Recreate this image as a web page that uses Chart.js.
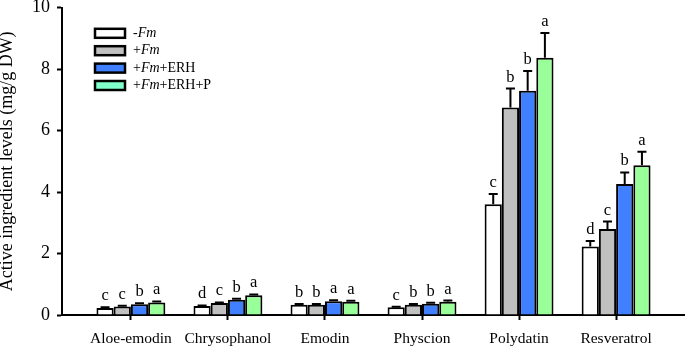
<!DOCTYPE html>
<html><head><meta charset="utf-8">
<script src="https://cdn.jsdelivr.net/npm/chart.js@4"></script>
<style>html,body{margin:0;padding:0;background:#fff}canvas{display:block}</style>
</head><body>
<canvas id="c" width="685" height="347"></canvas>
<script>
const categories = ['Aloe-emodin','Chrysophanol','Emodin','Physcion','Polydatin','Resveratrol'];
const seriesNames = ['-Fm','+Fm','+Fm+ERH','+Fm+ERH+P'];
const yTicks = [0,2,4,6,8,10];

const valsMinusFm   = [0.23, 0.29, 0.33, 0.25, 3.60, 2.23];
const errsMinusFm   = [0.02, 0.02, 0.03, 0.02, 0.34, 0.18];
const lettersMinusFm= ['c','d','b','c','c','d'];

const valsFm        = [0.28, 0.39, 0.33, 0.33, 6.75, 2.80];
const errsFm        = [0.02, 0.02, 0.03, 0.03, 0.62, 0.24];
const lettersFm     = ['c','c','b','b','b','c'];

const valsFmERH     = [0.35, 0.50, 0.45, 0.37, 7.30, 4.26];
const errsFmERH     = [0.03, 0.03, 0.03, 0.03, 0.64, 0.38];
const lettersFmERH  = ['b','b','a','b','b','b'];

const valsFmERHP    = [0.41, 0.64, 0.43, 0.43, 8.37, 4.87];
const errsFmERHP    = [0.03, 0.03, 0.03, 0.04, 0.81, 0.44];
const lettersFmERHP = ['a','a','a','a','a','a'];

const barColors    = ['#ffffff','#c0c0c0','#4080ff','#99ff99'];
const legendColors = ['#ffffff','#c0c0c0','#4080ff','#80ffcc'];

const allVals = [valsMinusFm, valsFm, valsFmERH, valsFmERHP];
const allErrs = [errsMinusFm, errsFm, errsFmERH, errsFmERHP];
const allLetters = [lettersMinusFm, lettersFm, lettersFmERH, lettersFmERHP];

const SERIF = '"Liberation Serif", "Times New Roman", serif';

const datasets = seriesNames.map((name, s) => ({
  label: name,
  data: allVals[s].map((v, i) => ({x: i, y: v})),
  errors: allErrs[s],
  letters: allLetters[s],
  backgroundColor: barColors[s],
  borderColor: '#000',
  borderWidth: 2,
  borderSkipped: 'bottom',
  categoryPercentage: 0.71,
  barPercentage: 1.0
}));

const errPlugin = {
  id: 'errbars',
  afterDatasetsDraw(chart) {
    const ctx = chart.ctx, ys = chart.scales.y;
    chart.data.datasets.forEach((ds, di) => {
      const meta = chart.getDatasetMeta(di);
      meta.data.forEach((bar, i) => {
        const v = ds.data[i].y, e = ds.errors[i];
        const yTop = ys.getPixelForValue(v + e), yBar = ys.getPixelForValue(v);
        ctx.save();
        ctx.strokeStyle = '#000'; ctx.lineWidth = 2;
        ctx.beginPath();
        ctx.moveTo(bar.x, yBar); ctx.lineTo(bar.x, yTop);
        ctx.moveTo(bar.x - 4.5, yTop); ctx.lineTo(bar.x + 4.5, yTop);
        ctx.stroke();
        ctx.font = '16.5px ' + SERIF;
        ctx.textAlign = 'center'; ctx.textBaseline = 'alphabetic'; ctx.fillStyle = '#000';
        ctx.fillText(ds.letters[i], bar.x, yTop - 7);
        ctx.restore();
      });
    });
  }
};

const legendPlugin = {
  id: 'customLegend',
  afterDraw(chart) {
    const ctx = chart.ctx;
    chart.data.datasets.forEach((ds, i) => {
      const cy = 33.3 + i * 17.4;
      ctx.save();
      ctx.fillStyle = legendColors[i];
      ctx.fillRect(95, cy - 4.5, 30, 9);
      ctx.strokeStyle = '#000'; ctx.lineWidth = 2.5;
      ctx.strokeRect(95, cy - 4.5, 30, 9);
      ctx.fillStyle = '#000'; ctx.textBaseline = 'middle'; ctx.textAlign = 'left';
      let x = 133;
      ds.label.split(/(Fm)/).forEach(p => {
        if (!p) return;
        ctx.font = (p === 'Fm' ? 'italic ' : '') + '14px ' + SERIF;
        ctx.fillText(p, x, cy);
        x += ctx.measureText(p).width;
      });
      ctx.restore();
    });
  }
};

new Chart(document.getElementById('c'), {
  type: 'bar',
  data: { datasets },
  options: {
    responsive: false,
    animation: false,
    layout: { padding: { top: 7.7, left: 0, right: 0, bottom: 0 } },
    plugins: { legend: { display: false }, tooltip: { enabled: false } },
    scales: {
      x: {
        type: 'linear',
        offset: false,
        min: -0.71, max: 5.71,
        afterBuildTicks: s => { s.ticks = categories.map((_, i) => ({ value: i })); },
        afterFit: s => { s.height = 32; s.paddingLeft = 0; s.paddingRight = 0; },
        ticks: {
          autoSkip: false, maxRotation: 0,
          callback: v => categories[v] ?? '',
          font: { family: SERIF, size: 15.5 },
          color: '#000', padding: 10
        },
        grid: { display: true, offset: false, drawOnChartArea: false, drawTicks: true, tickLength: 5, tickColor: '#000', tickWidth: 2 },
        border: { display: true, color: '#000', width: 2 }
      },
      y: {
        min: 0, max: 10,
        afterBuildTicks: s => { s.ticks = yTicks.map(v => ({ value: v })); },
        afterFit: s => { s.width = 62; s.paddingTop = 0; s.paddingBottom = 0; },
        ticks: {
          font: { family: SERIF, size: 18, lineHeight: 0.9 },
          color: '#000', padding: 7
        },
        grid: { display: true, drawOnChartArea: false, drawTicks: true, tickLength: 5, tickColor: '#000', tickWidth: 2 },
        border: { display: true, color: '#000', width: 2 },
        title: {
          display: true,
          text: 'Active ingredient levels (mg/g DW)',
          font: { family: SERIF, size: 18, lineHeight: 0.8 },
          color: '#000',
          padding: { top: 0, bottom: 0 }
        }
      }
    }
  },
  plugins: [errPlugin, legendPlugin]
});
</script>
</body></html>
